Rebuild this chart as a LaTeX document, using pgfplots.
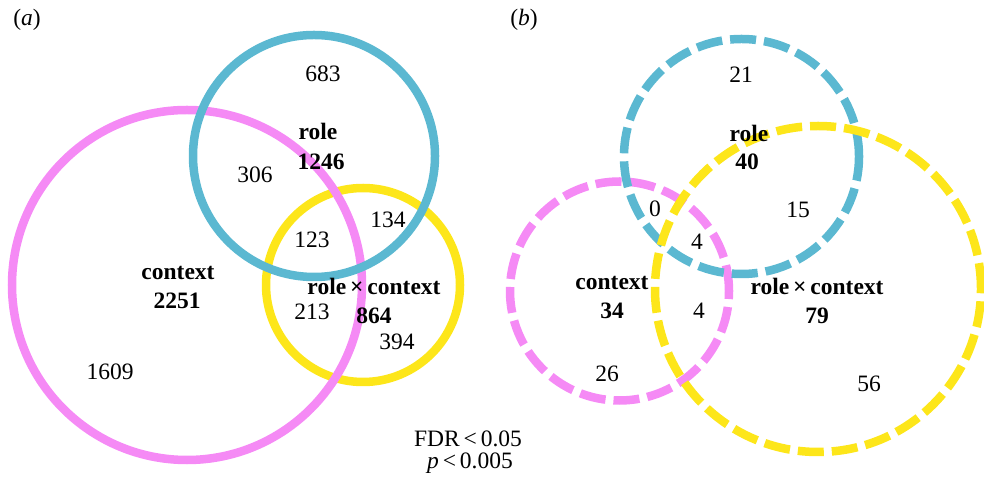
\documentclass[border=0pt]{standalone}
\usepackage{pgfplots}
\pgfplotsset{compat=1.18}
\usepackage{fontspec}
\setmainfont{Liberation Serif}
\definecolor{vblue}{HTML}{5BB8D1}
\definecolor{vpink}{HTML}{F58AF5}
\definecolor{vyellow}{HTML}{FDE61A}
\tikzset{lbl/.style={anchor=base, inner sep=0pt, font=\fontsize{23.5}{28}\selectfont}}
\begin{document}
\begin{tikzpicture}
\begin{axis}[at={(0,0)}, anchor=south west, width=984pt, height=484pt, scale only axis,
  xmin=0, xmax=984, ymin=0, ymax=484, y dir=reverse, hide axis, clip=false, set layers=standard]
% panel (a): circles (centre x, centre y, radius in px)
\addplot[vyellow, only marks, mark=o, mark size=97pt, mark options={line width=8.5pt}] coordinates {(363,285)};
\addplot[vpink, only marks, mark=o, mark size=175pt, mark options={line width=8.5pt}] coordinates {(187,285)};
\addplot[vblue, only marks, mark=o, mark size=121pt, mark options={line width=8.5pt}] coordinates {(314,156)};
% panel (b)
\addplot[vpink, only marks, mark=o, mark size=109.5pt, mark options={line width=8.5pt, dash pattern=on 26pt off 8pt}] coordinates {(619.5,291)};
\addplot[vblue, only marks, mark=o, mark size=117.5pt, mark options={line width=8.5pt, dash pattern=on 26pt off 8pt}] coordinates {(741.5,156.5)};
\addplot[vyellow, only marks, mark=o, mark size=163pt, mark options={line width=8.5pt, dash pattern=on 26pt off 8pt}] coordinates {(818,289)};
\begin{pgfonlayer}{axis foreground}
% labels (a)
\node[lbl] at (axis cs:27,26) {(\textit{a})};
\node[lbl] at (axis cs:323,82) {683};
\node[lbl] at (axis cs:318,140) {\textbf{role}};
\node[lbl] at (axis cs:321,170) {\textbf{1246}};
\node[lbl] at (axis cs:255,183) {306};
\node[lbl] at (axis cs:388,228) {134};
\node[lbl] at (axis cs:312,248) {123};
\node[lbl] at (axis cs:178,280) {\textbf{context}};
\node[lbl] at (axis cs:177,309) {\textbf{2251}};
\node[lbl] at (axis cs:374,295) {\textbf{role\,×\,context}};
\node[lbl] at (axis cs:374,324) {\textbf{864}};
\node[lbl] at (axis cs:312,320) {213};
\node[lbl] at (axis cs:397,350) {394};
\node[lbl] at (axis cs:110,380) {1609};
\node[lbl] at (axis cs:468,447) {FDR\,<\,0.05};
\node[lbl] at (axis cs:470,468) {\textit{p}\,<\,0.005};
% labels (b)
\node[lbl] at (axis cs:524,26) {(\textit{b})};
\node[lbl] at (axis cs:741,83) {21};
\node[lbl] at (axis cs:749,142) {\textbf{role}};
\node[lbl] at (axis cs:747,170) {\textbf{40}};
\node[lbl] at (axis cs:655,217) {0};
\node[lbl] at (axis cs:798,218) {15};
\node[lbl] at (axis cs:697,250) {4};
\node[lbl] at (axis cs:612,290) {\textbf{context}};
\node[lbl] at (axis cs:612,319) {\textbf{34}};
\node[lbl] at (axis cs:699,319) {4};
\node[lbl] at (axis cs:817,295) {\textbf{role\,×\,context}};
\node[lbl] at (axis cs:817,324) {\textbf{79}};
\node[lbl] at (axis cs:607,382) {26};
\node[lbl] at (axis cs:869,392) {56};
\end{pgfonlayer}
\end{axis}
\pgfresetboundingbox
\path[use as bounding box] (0,0) rectangle (984pt,484pt);
\end{tikzpicture}
\end{document}
